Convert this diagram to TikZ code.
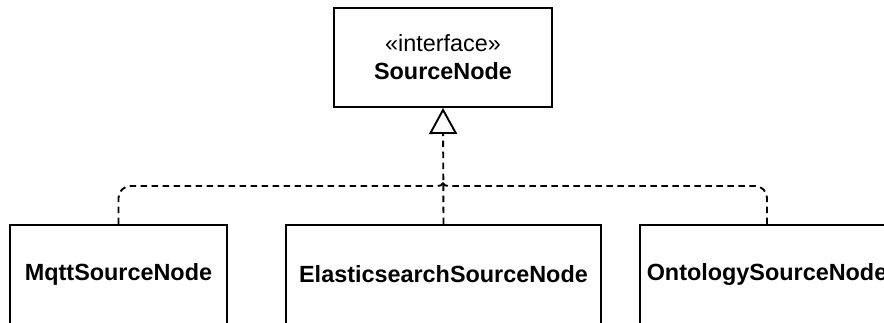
\documentclass[tikz,border=0pt]{standalone}
\usepackage{fontspec}
\setmainfont{Liberation Sans}
\usetikzlibrary{arrows.meta}
\begin{document}
\begin{tikzpicture}[x=1bp, y=-1bp,
  umlbox/.style={draw=black, line width=1.9bp, fill=white, inner sep=0pt,
    align=center, font=\fontsize{23.4bp}{28bp}\selectfont},
  dashedge/.style={draw=black, line width=1.9bp, dash pattern=on 6.5bp off 4.5bp},
  realize/.style={dashedge,
    -{Triangle[open, length=26bp, width=28bp, fill=white, line width=1.9bp]}}]
  \useasboundingbox (0,0) rectangle (884,322);
  \clip (0,0) rectangle (884,322);

  % interface
  \node[umlbox, minimum width=218bp, minimum height=99bp] (iface) at (443,57.5)
    {«interface»\\\textbf{SourceNode}};

  % implementing classes
  \node[umlbox, minimum width=217bp, minimum height=99bp] (mqtt) at (118.5,274.5)
    {\textbf{MqttSourceNode}};
  \node[umlbox, minimum width=315bp, minimum height=99bp] (elastic) at (443.5,274.5)
    {\textbf{ElasticsearchSourceNode}};
  \node[umlbox, minimum width=254bp, minimum height=99bp] (onto) at (767,274.5)
    {\textbf{OntologySourceNode}};

  % shared bus of the realization edges
  \coordinate (bus) at (443,186);
  \coordinate (merge) at (443,180);
  \coordinate (busL) at (428,186);
  \coordinate (busR) at (458,186);

  % side branches bend into the trunk at the bus
  \draw[dashedge, rounded corners=12bp] (mqtt.north) -- (mqtt.north |- bus)
    [sharp corners] -- (busL) .. controls (bus) .. (merge);
  \draw[dashedge, rounded corners=12bp] (onto.north) -- (onto.north |- bus)
    [sharp corners] -- (busR) .. controls (bus) .. (merge);
  % trunk with the realization arrowhead
  \draw[realize] (elastic.north) -- (iface.south);
\end{tikzpicture}
\end{document}
